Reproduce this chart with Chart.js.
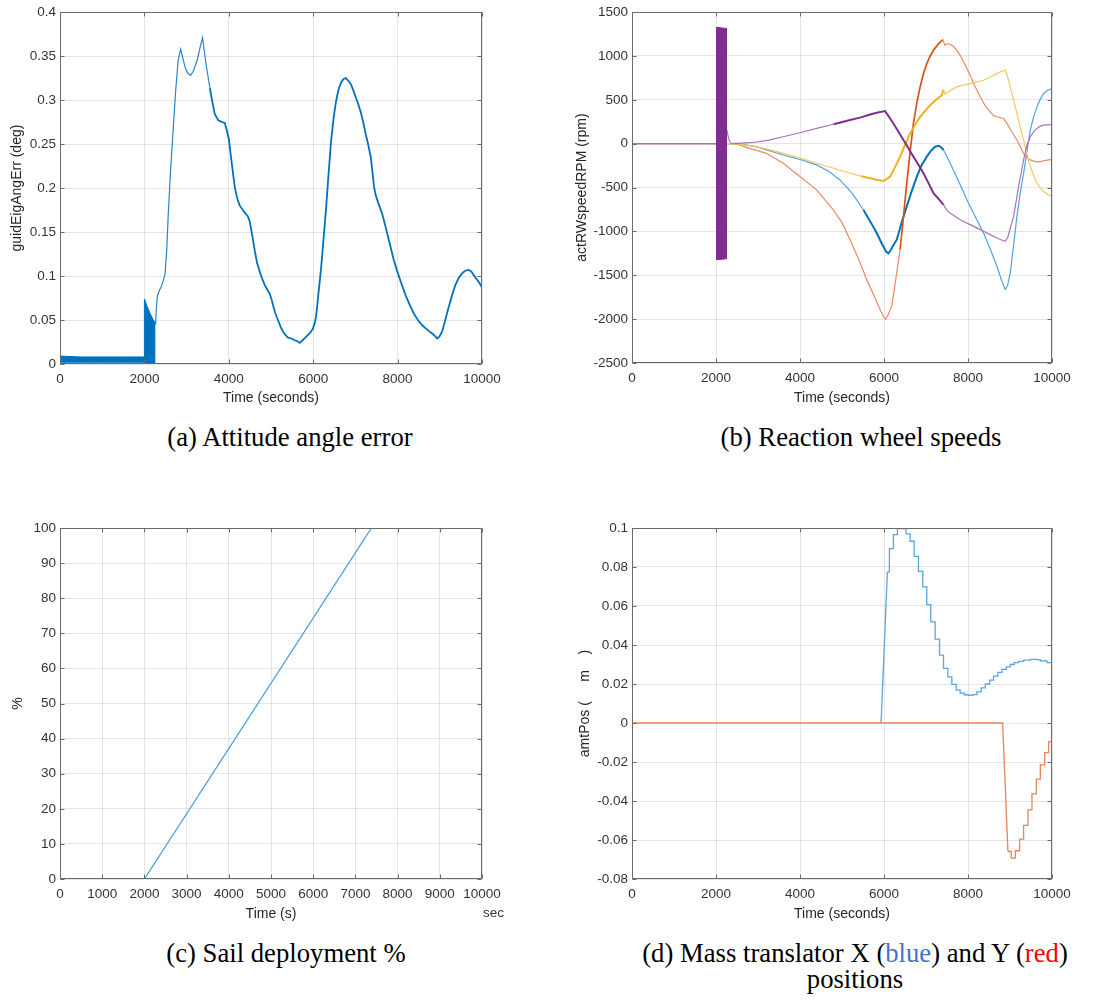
<!DOCTYPE html>
<html>
<head>
<meta charset="utf-8">
<script src="https://cdn.jsdelivr.net/npm/chart.js@4.4.1/dist/chart.umd.min.js"></script>
<style>
  body { margin: 0; background: #fff; width: 1105px; height: 1005px; position: relative; overflow: hidden; }
  .panel { position: absolute; }
  .caption { position: absolute; font-family: 'Liberation Serif', 'Times New Roman', serif; font-size: 26.7px; line-height: 25.5px; color: #000; text-align: center; white-space: nowrap; }
  .unit { position: absolute; font-family: 'Liberation Sans', Arial, sans-serif; font-size: 13.5px; color: #333; }
</style>
</head>
<body>
<div class="panel" style="left:0;top:0"><canvas id="chartA" width="550" height="420"></canvas></div>
<div class="panel" style="left:550px;top:0"><canvas id="chartB" width="555" height="420"></canvas></div>
<div class="panel" style="left:0;top:490px"><canvas id="chartC" width="550" height="440"></canvas></div>
<div class="panel" style="left:550px;top:490px"><canvas id="chartD" width="555" height="440"></canvas></div>

<div class="caption" style="left:90px;top:425px;width:400px">(a) Attitude angle error</div>
<div class="caption" style="left:661px;top:425px;width:400px">(b) Reaction wheel speeds</div>
<div class="caption" style="left:86px;top:941px;width:400px">(c) Sail deployment %</div>
<div class="caption" style="left:605px;top:941px;width:500px">(d) Mass translator X (<span style="color:#4472c4">blue</span>) and Y (<span style="color:#ff0000">red</span>)<br>positions</div>
<div class="unit" style="left:483px;top:905px">sec</div>

<script>
// --- DATA ---
// (a) attitude angle error
const attBandTime = [0, 500, 1000, 1500, 1995, 2000, 2060, 2130, 2200, 2265];
const attBandHi = [0.009, 0.008, 0.008, 0.008, 0.008, 0.074, 0.066, 0.058, 0.051, 0.046];
const attBandLo = [0.002, 0.002, 0.002, 0.002, 0.002, 0, 0, 0, 0, 0];
const attTime = [2265, 2285, 2310, 2350, 2400, 2450, 2490, 2530, 2565, 2620, 2680, 2740, 2800, 2858, 2900, 2960, 3020, 3094, 3160, 3250, 3320, 3378,
  3420, 3480, 3551, 3610, 3669, 3750, 3850, 3905, 3950, 4000, 4063, 4142, 4200, 4260, 4378, 4450, 4496, 4560, 4614, 4670, 4732, 4790, 4850, 4930,
  4969, 5010, 5047, 5100, 5165, 5230, 5283, 5340, 5402, 5480, 5559, 5620, 5677, 5750, 5835, 5920, 5992, 6040, 6071, 6120, 6189, 6250, 6307, 6370,
  6425, 6490, 6543, 6600, 6661, 6720, 6775, 6830, 6893, 6950, 7011, 7070, 7129, 7190, 7246, 7300, 7364, 7400, 7443, 7480, 7522, 7580, 7640, 7720,
  7797, 7900, 7994, 8100, 8191, 8290, 8387, 8480, 8584, 8680, 8780, 8860, 8938, 8990, 9056, 9130, 9213, 9290, 9371, 9450, 9528, 9600, 9685, 9750,
  9803, 9880, 9940, 10000];
const attErr = [0.045, 0.065, 0.078, 0.083, 0.088, 0.095, 0.103, 0.13, 0.17, 0.22, 0.265, 0.31, 0.345, 0.358, 0.35, 0.338, 0.331, 0.328, 0.333, 0.345, 0.36, 0.371,
  0.355, 0.335, 0.314, 0.298, 0.284, 0.277, 0.275, 0.274, 0.266, 0.256, 0.231, 0.201, 0.188, 0.18, 0.172, 0.168, 0.162, 0.145, 0.129, 0.115, 0.105, 0.097, 0.09, 0.083,
  0.08, 0.074, 0.067, 0.058, 0.05, 0.042, 0.037, 0.033, 0.03, 0.029, 0.027, 0.026, 0.024, 0.027, 0.031, 0.035, 0.04, 0.047, 0.055, 0.078, 0.11, 0.145, 0.178, 0.22,
  0.254, 0.282, 0.299, 0.312, 0.32, 0.324, 0.325, 0.322, 0.318, 0.311, 0.303, 0.295, 0.286, 0.274, 0.261, 0.25, 0.235, 0.22, 0.201, 0.192, 0.186, 0.178, 0.17, 0.155,
  0.14, 0.12, 0.105, 0.09, 0.078, 0.067, 0.057, 0.05, 0.044, 0.04, 0.036, 0.033, 0.029, 0.031, 0.037, 0.05, 0.065, 0.078, 0.09, 0.098, 0.103, 0.106, 0.107, 0.105,
  0.101, 0.096, 0.092, 0.087];

// (b) reaction wheel speeds (rpm)
const rw1Time = [0, 2000, 2300, 2600, 2965, 3203, 3601, 4000, 4396, 4700, 4952, 5250, 5509, 5700, 5827, 5950, 6050, 6105, 6150, 6220, 6304, 6420, 6542,
  6660, 6781, 6900, 7019, 7120, 7218, 7297, 7360, 7417, 7500, 7575, 7780, 7973, 8170, 8370, 8530, 8688, 8800, 8887, 8940, 9006, 9080, 9165, 9245,
  9324, 9400, 9483, 9560, 9642, 9720, 9801, 9900, 10000];
const rw1Speed = [0, 0, 0, -5, -34, -72, -129, -180, -242, -320, -413, -570, -753, -910, -1018, -1140, -1230, -1250, -1220, -1160, -1094, -900, -715,
  -540, -375, -240, -148, -80, -34, -25, -40, -72, -150, -223, -430, -640, -830, -1018, -1200, -1397, -1560, -1662, -1620, -1472, -1180, -829, -560,
  -337, -100, 155, 300, 420, 505, 572, 610, 628];
const rw2Time = [0, 2000, 2300, 2500, 2806, 3203, 3601, 3998, 4396, 4793, 5000, 5191, 5400, 5588, 5750, 5906, 5990, 6041, 6100, 6184, 6280, 6383, 6460,
  6542, 6620, 6701, 6780, 6860, 6940, 7019, 7100, 7178, 7300, 7401, 7450, 7496, 7560, 7655, 7740, 7814, 7930, 8052, 8170, 8291, 8410, 8529, 8610,
  8688, 8780, 8847, 8927, 9050, 9165, 9250, 9324, 9400, 9483, 9600, 9722, 9850, 10000];
const rw2Speed = [0, 0, 0, -5, -53, -110, -223, -375, -526, -753, -900, -1094, -1320, -1548, -1720, -1889, -1975, -2002, -1950, -1851, -1550, -1207, -850,
  -450, -100, 231, 460, 647, 800, 912, 1000, 1064, 1140, 1185, 1125, 1139, 1135, 1110, 1060, 1007, 900, 780, 650, 534, 430, 363, 320,
  307, 295, 288, 231, 130, 42, -40, -110, -160, -185, -205, -204, -190, -178];
const rw3Time = [0, 2300, 2500, 2806, 3200, 3601, 4000, 4396, 4800, 5191, 5450, 5668, 5850, 5986, 6060, 6145, 6260, 6383, 6500, 6622, 6740, 6860, 6980,
  7098, 7240, 7377, 7417, 7456, 7580, 7734, 7900, 8052, 8210, 8370, 8530, 8688, 8800, 8887, 8940, 9006, 9085, 9165, 9245, 9324, 9400, 9483, 9560,
  9642, 9720, 9801, 9900, 10000];
const rw3Speed = [0, 0, -2, -23, -60, -110, -165, -223, -280, -337, -370, -394, -415, -424, -405, -375, -270, -148, -15, 117, 215, 307, 375,
  439, 500, 553, 617, 564, 610, 647, 670, 685, 705, 723, 760, 799, 825, 837, 770, 647, 500, 344, 190, 42, -110, -261, -360,
  -450, -505, -545, -580, -602];
const rw4Time = [0, 2000, 2262, 2290, 2320, 2360, 2500, 2806, 3200, 3601, 4000, 4396, 4800, 5191, 5450, 5668, 5850, 6025, 6100, 6224, 6340, 6463, 6580,
  6701, 6820, 6940, 7060, 7178, 7300, 7417, 7500, 7575, 7700, 7814, 7930, 8052, 8210, 8370, 8530, 8688, 8800, 8887, 8950, 9086, 9200, 9324, 9400,
  9483, 9560, 9642, 9720, 9801, 9900, 10000];
const rw4Speed = [0, 0, 150, 80, 30, 5, 3, 11, 35, 79, 125, 174, 222, 269, 300, 333, 355, 371, 320, 231, 140, 42, -50,
  -148, -240, -337, -450, -564, -630, -697, -760, -791, -830, -867, -895, -923, -960, -999, -1037, -1075, -1098, -1113, -1060, -829, -500, -185, -20,
  79, 135, 174, 200, 212, 215, 216];
const rw4BandTime = [2000, 2130, 2265];
const rw4BandHi = [1328, 1320, 1312];
const rw4BandLo = [-1322, -1318, -1310];

// (c) sail deployment
const sailTime = [0, 2000, 7380];
const sailPct = [0, 0, 100];

// (d) mass translator positions (m)
const amtXRampTime = [5930, 6081];
const amtXRamp = [0, 0.0775];
const amtXStepTime = [6081, 6129, 6224, 6319, 6526, 6622, 6717, 6820, 6924, 7019, 7114, 7218, 7321, 7417, 7520, 7615, 7719, 7814, 7910, 8010, 8110,
  8211, 8315, 8410, 8514, 8609, 8712, 8808, 8911, 9006, 9100, 9200, 9324, 9483, 9650, 9722, 9881, 10000];
const amtXStep = [0.0775, 0.0894, 0.0966, 0.0997, 0.097, 0.0932, 0.0855, 0.0778, 0.0698, 0.0607, 0.0519, 0.043, 0.0348, 0.028, 0.0237, 0.0198, 0.0169, 0.0153, 0.0145, 0.0142, 0.0146,
  0.016, 0.018, 0.02, 0.022, 0.024, 0.026, 0.0275, 0.0288, 0.03, 0.031, 0.0316, 0.0322, 0.0326, 0.0325, 0.0319, 0.031, 0.031];
const amtYRampTime = [0, 8824, 8951];
const amtYRamp = [0, 0, -0.0659];
const amtYStepTime = [8951, 9030, 9126, 9229, 9324, 9428, 9523, 9626, 9722, 9825, 9921, 10000];
const amtYStep = [-0.0659, -0.0693, -0.0655, -0.0595, -0.0525, -0.0445, -0.0363, -0.0288, -0.0215, -0.0152, -0.0096, -0.0096];

// tick values
const timeTicks = [0, 2000, 4000, 6000, 8000, 10000];
const timeTicksC = [0, 1000, 2000, 3000, 4000, 5000, 6000, 7000, 8000, 9000, 10000];
const errTicks = [0, 0.05, 0.1, 0.15, 0.2, 0.25, 0.3, 0.35, 0.4];
const rpmTicks = [-2500, -2000, -1500, -1000, -500, 0, 500, 1000, 1500];
const pctTicks = [0, 10, 20, 30, 40, 50, 60, 70, 80, 90, 100];
const posTicks = [-0.08, -0.06, -0.04, -0.02, 0, 0.02, 0.04, 0.06, 0.08, 0.1];

// ================= HELPERS =================
const pts = (xs, ys) => xs.map((x, i) => ({ x: x, y: ys[i] }));
const tickFont = { family: "'Liberation Sans', Arial, sans-serif", size: 13.5 };
const titleFont = { family: "'Liberation Sans', Arial, sans-serif", size: 14 };
const gridStyle = { color: 'rgba(38,38,38,0.12)', drawTicks: false, lineWidth: 1 };

// MATLAB-like box with inward ticks
const matlabBox = {
  id: 'matlabBox',
  afterDraw(chart) {
    const { ctx, chartArea: a, scales } = chart;
    const L = Math.round(a.left) + 0.5, R = Math.round(a.right) - 0.5;
    const T = Math.round(a.top) + 0.5, B = Math.round(a.bottom) - 0.5;
    ctx.save();
    ctx.strokeStyle = '#6a6a6a';
    ctx.lineWidth = 1;
    ctx.strokeRect(L, T, R - L, B - T);
    ctx.beginPath();
    scales.x.ticks.forEach(t => {
      const px = Math.round(scales.x.getPixelForValue(t.value)) + 0.5;
      ctx.moveTo(px, B); ctx.lineTo(px, B - 4);
      ctx.moveTo(px, T); ctx.lineTo(px, T + 4);
    });
    scales.y.ticks.forEach(t => {
      const py = Math.round(scales.y.getPixelForValue(t.value)) + 0.5;
      ctx.moveTo(L, py); ctx.lineTo(L + 4, py);
      ctx.moveTo(R, py); ctx.lineTo(R - 4, py);
    });
    ctx.stroke();
    ctx.restore();
  }
};

function buildOptions(cfg) {
  return {
    responsive: false,
    animation: false,
    events: [],
    layout: { autoPadding: false, padding: { left: 0, top: cfg.top, right: cfg.right, bottom: 0 } },
    plugins: { legend: { display: false }, tooltip: { enabled: false } },
    elements: { point: { radius: 0 }, line: { tension: 0 } },
    scales: {
      x: {
        type: 'linear', min: 0, max: 10000,
        afterBuildTicks: s => { s.ticks = cfg.xTicks.map(v => ({ value: v })); },
        afterFit: s => { s.height = cfg.xAxisH; },
        grid: gridStyle,
        border: { display: false },
        ticks: { color: '#333', font: tickFont, padding: 7, maxRotation: 0, autoSkip: false, callback: v => String(v) },
        title: { display: true, text: cfg.xTitle, color: '#262626', font: titleFont, padding: { top: 0, bottom: cfg.xTitlePad } }
      },
      y: {
        type: 'linear', min: cfg.yMin, max: cfg.yMax,
        afterBuildTicks: s => { s.ticks = cfg.yTicks.map(v => ({ value: v })); },
        afterFit: s => { s.width = cfg.left; },
        grid: gridStyle,
        border: { display: false },
        ticks: { color: '#333', font: tickFont, padding: 4, autoSkip: false, callback: v => String(v) },
        title: { display: true, text: cfg.yTitle, color: '#262626', font: titleFont, padding: { top: cfg.yTitlePad, bottom: 0 } }
      }
    }
  };
}

// thick (noisy) segment between from..to, thin elsewhere
function segStyle(from, to, thickColor, thinColor, thickW, thinW) {
  const inside = c => c.p0.parsed.x >= from && c.p1.parsed.x <= to;
  return {
    borderColor: c => inside(c) ? thickColor : thinColor,
    borderWidth: c => inside(c) ? thickW : thinW
  };
}

// ================= (a) ATTITUDE ANGLE ERROR =================
new Chart(document.getElementById('chartA'), {
  type: 'line',
  data: {
    datasets: [
      { data: pts(attBandTime, attBandHi), borderColor: '#0072BD', backgroundColor: '#0072BD', borderWidth: 1, fill: '+1' },
      { data: pts(attBandTime, attBandLo), borderColor: '#0072BD', borderWidth: 1, fill: false },
      { data: pts(attTime, attErr), borderColor: '#0072BD', borderWidth: 1.2, fill: false,
        segment: segStyle(3500, 10000, '#0072BD', '#2a84c8', 1.8, 1.2) }
    ]
  },
  options: buildOptions({ top: 11, right: 68, left: 60, xAxisH: 56, xTitlePad: 13.6, yTitlePad: 8.6,
    xTicks: timeTicks, yTicks: errTicks, yMin: 0, yMax: 0.4, xTitle: 'Time (seconds)', yTitle: 'guidEigAngErr (deg)' }),
  plugins: [matlabBox]
});

// ================= (b) REACTION WHEEL SPEEDS =================
new Chart(document.getElementById('chartB'), {
  type: 'line',
  data: {
    datasets: [
      { data: pts(rw4BandTime, rw4BandHi), borderColor: '#7E2F8E', backgroundColor: '#7E2F8E', borderWidth: 1, fill: '+1', order: 0 },
      { data: pts(rw4BandTime, rw4BandLo), borderColor: '#7E2F8E', borderWidth: 1, fill: false, order: 0 },
      { data: pts(rw4Time, rw4Speed), fill: false, order: 1, segment: segStyle(4400, 7420, '#7E2F8E', '#a874b8', 2.0, 1.2) },
      { data: pts(rw3Time, rw3Speed), fill: false, order: 2, segment: segStyle(5200, 7420, '#EDB120', '#f5c862', 2.0, 1.2) },
      { data: pts(rw2Time, rw2Speed), fill: false, order: 3, segment: segStyle(6300, 7402, '#D95319', '#ea8a64', 1.7, 1.2) },
      { data: pts(rw1Time, rw1Speed), fill: false, order: 4, segment: segStyle(5300, 7420, '#0072BD', '#4fa3dc', 2.0, 1.2) }
    ]
  },
  options: buildOptions({ top: 11, right: 53, left: 82, xAxisH: 57, xTitlePad: 13.6, yTitlePad: 24,
    xTicks: timeTicks, yTicks: rpmTicks, yMin: -2500, yMax: 1500, xTitle: 'Time (seconds)', yTitle: 'actRWspeedRPM (rpm)' }),
  plugins: [matlabBox]
});

// ================= (c) SAIL DEPLOYMENT =================
new Chart(document.getElementById('chartC'), {
  type: 'line',
  data: {
    datasets: [
      { data: pts(sailTime, sailPct), borderColor: '#4a9fdb', borderWidth: 1.3, fill: false }
    ]
  },
  options: buildOptions({ top: 38, right: 68, left: 60, xAxisH: 51, xTitlePad: 7.6, yTitlePad: 9.6,
    xTicks: timeTicksC, yTicks: pctTicks, yMin: 0, yMax: 100, xTitle: 'Time (s)', yTitle: '%' }),
  plugins: [matlabBox]
});

// ================= (d) MASS TRANSLATOR POSITIONS =================
new Chart(document.getElementById('chartD'), {
  type: 'line',
  data: {
    datasets: [
      { data: pts(amtYRampTime, amtYRamp), borderColor: '#e8845e', borderWidth: 1.3, fill: false, order: 0 },
      { data: pts(amtYStepTime, amtYStep), borderColor: '#e8845e', borderWidth: 1.3, fill: false, stepped: 'before', order: 0 },
      { data: pts(amtXRampTime, amtXRamp), borderColor: '#5aa7de', borderWidth: 1.3, fill: false, order: 1 },
      { data: pts(amtXStepTime, amtXStep), borderColor: '#5aa7de', borderWidth: 1.3, fill: false, stepped: 'before', order: 1 }
    ]
  },
  options: buildOptions({ top: 38, right: 53, left: 82, xAxisH: 51, xTitlePad: 7.6, yTitlePad: 27,
    xTicks: timeTicks, yTicks: posTicks, yMin: -0.08, yMax: 0.1, xTitle: 'Time (seconds)', yTitle: 'amtPos (     m    )' }),
  plugins: [matlabBox]
});
</script>
</body>
</html>
